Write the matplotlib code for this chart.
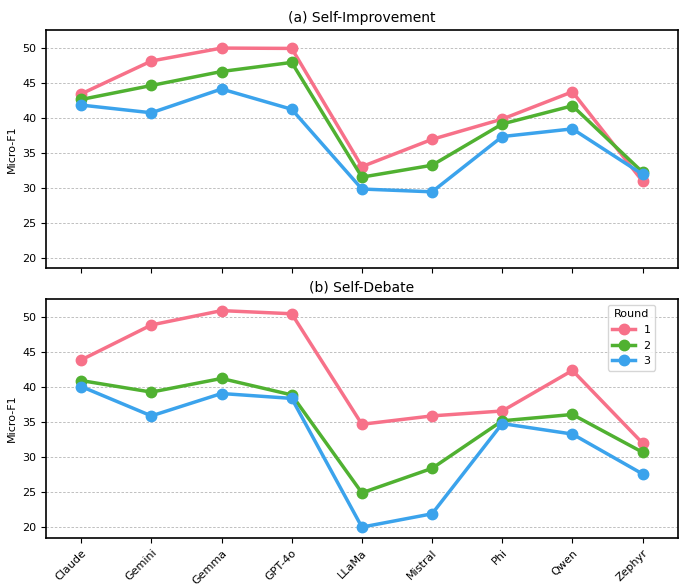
import matplotlib
matplotlib.use("Agg")
import matplotlib.pyplot as plt
import numpy as np

# models and scores per round
models = ["Claude", "Gemini", "Gemma", "GPT-4o", "LLaMa", "Mistral", "Phi", "Qwen", "Zephyr"]
rounds = ["1", "2", "3"]

improve_r1 = [43.4, 48.1, 49.95, 49.9, 33.0, 36.9, 39.8, 43.7, 30.9]
improve_r2 = [42.6, 44.6, 46.6, 47.9, 31.5, 33.2, 39.1, 41.7, 32.2]
improve_r3 = [41.8, 40.7, 44.1, 41.2, 29.8, 29.4, 37.3, 38.4, 31.9]

debate_r1 = [43.9, 48.9, 50.95, 50.5, 34.7, 35.9, 36.6, 42.4, 32.0]
debate_r2 = [40.95, 39.3, 41.25, 38.9, 24.9, 28.4, 35.2, 36.1, 30.7]
debate_r3 = [40.1, 35.9, 39.1, 38.4, 20.0, 21.9, 34.8, 33.3, 27.6]

titles = ["(a) Self-Improvement", "(b) Self-Debate"]
panels = [[improve_r1, improve_r2, improve_r3], [debate_r1, debate_r2, debate_r3]]

# husl palette colours
color_lst = ["#f77189", "#50b131", "#3ba3ec"]

fig, axs = plt.subplots(2, 1, figsize=(6.88, 5.86), dpi=100, sharex=True, sharey=True)
fig.subplots_adjust(left=0.067, right=0.985, top=0.949, bottom=0.082, hspace=0.13)

x = np.arange(len(models))
for ax, title, series in zip(axs, titles, panels):
    for j, y in enumerate(series):
        ax.plot(x, y, marker="o", color=color_lst[j], linewidth=2.5,
                markersize=7.5, label=rounds[j])
    ax.set_title(title, fontsize=10)
    ax.set_ylabel("Micro-F1", fontsize=8)
    ax.yaxis.grid(True, linestyle=(0, (3, 2)), color="#b5b5b5", linewidth=0.6)
    ax.set_axisbelow(True)
    ax.tick_params(axis="both", labelsize=8)
    for s in ax.spines.values():
        s.set_linewidth(1.2)

axs[0].set_xlim(-0.5, len(models) - 0.5)
axs[0].set_ylim(18.45, 52.55)
axs[0].set_yticks([20, 25, 30, 35, 40, 45, 50])
axs[1].set_xticks(x)
axs[1].set_xticklabels(models, rotation=45, ha="right", rotation_mode="anchor")
axs[1].legend(title="Round", loc="upper right", fontsize=8, title_fontsize=8,
              bbox_to_anchor=(0.973, 1.0))

plt.savefig("out.png", dpi=100)
